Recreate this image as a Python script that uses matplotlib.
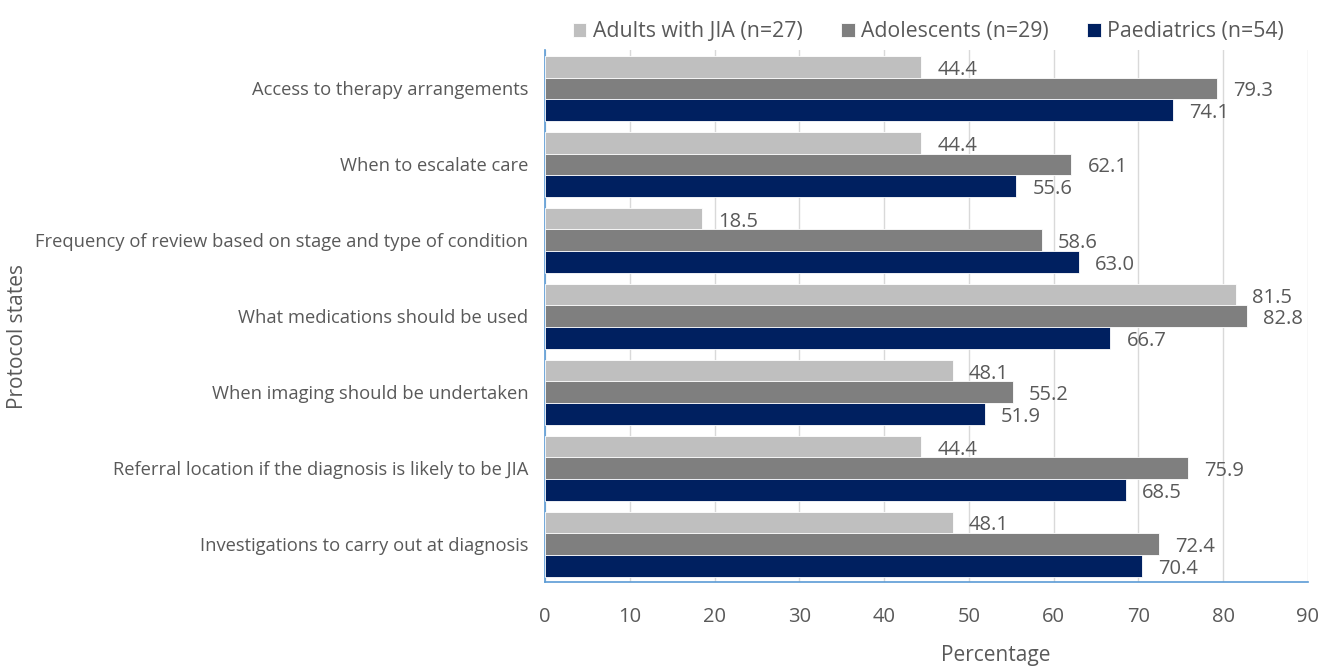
import matplotlib.pyplot as plt
import matplotlib as mpl
import numpy as np

mpl.rcParams["font.family"] = ["Open Sans", "DejaVu Sans"]

categories = [
    "Access to therapy arrangements",
    "When to escalate care",
    "Frequency of review based on stage and type of condition",
    "What medications should be used",
    "When imaging should be undertaken",
    "Referral location if the diagnosis is likely to be JIA",
    "Investigations to carry out at diagnosis",
]
series_names = ["Adults with JIA (n=27)", "Adolescents (n=29)", "Paediatrics (n=54)"]
adults = [44.4, 44.4, 18.5, 81.5, 48.1, 44.4, 48.1]
adolescents = [79.3, 62.1, 58.6, 82.8, 55.2, 75.9, 72.4]
paediatrics = [74.1, 55.6, 63.0, 66.7, 51.9, 68.5, 70.4]
x_ticks = [0, 10, 20, 30, 40, 50, 60, 70, 80, 90]

COLORS = ["#BFBFBF", "#7F7F7F", "#002060"]
TXT = "#595959"
SPINE = "#5B9BD5"

fig = plt.figure(figsize=(13.24, 6.67), dpi=100)
ax = fig.add_axes([0.4116, 0.1274, 0.5763, 0.797])

y = np.arange(len(categories))
bh = 0.285
offsets = [-bh, 0, bh]
handles = []
for vals, off, col, name in zip([adults, adolescents, paediatrics], offsets, COLORS, series_names):
    bars = ax.barh(y + off, vals, height=bh, color=col, edgecolor="white",
                   linewidth=0.6, label=name, zorder=3)
    handles.append(bars)
    for yy, v in zip(y + off, vals):
        ax.text(v + 1.9, yy + 0.04, f"{v:.1f}", ha="left", va="center",
                fontsize=14.5, color=TXT, zorder=4)

ax.set_xlim(0, 90)
ax.set_ylim(len(categories) - 0.5, -0.5)
ax.set_xticks(x_ticks)
ax.set_yticks(y)
ax.set_yticklabels(categories, fontsize=13.2, color=TXT)
ax.tick_params(axis="x", labelsize=14.5, colors=TXT, length=0, pad=18)
ax.tick_params(axis="y", length=0, pad=12)
ax.grid(axis="x", color="#D9D9D9", lw=1.0, zorder=0)

for s in ["top", "right"]:
    ax.spines[s].set_visible(False)
for s in ["left", "bottom"]:
    ax.spines[s].set_color(SPINE)
    ax.spines[s].set_linewidth(1.2)

fig.text(996 / 1324, 1 - 655 / 667, "Percentage", ha="center", va="center",
         fontsize=15, color=TXT)
fig.text(0.013, 0.495, "Protocol states", rotation=90, ha="center", va="center",
         fontsize=15, color=TXT)

fig.legend(handles=handles, labels=series_names, loc="upper right",
           bbox_to_anchor=(0.984, 0.997), ncol=3, frameon=False,
           fontsize=15.3, handlelength=0.65, handleheight=0.65,
           handletextpad=0.3, columnspacing=1.8, labelcolor=TXT)

fig.savefig("out.png", dpi=100)
